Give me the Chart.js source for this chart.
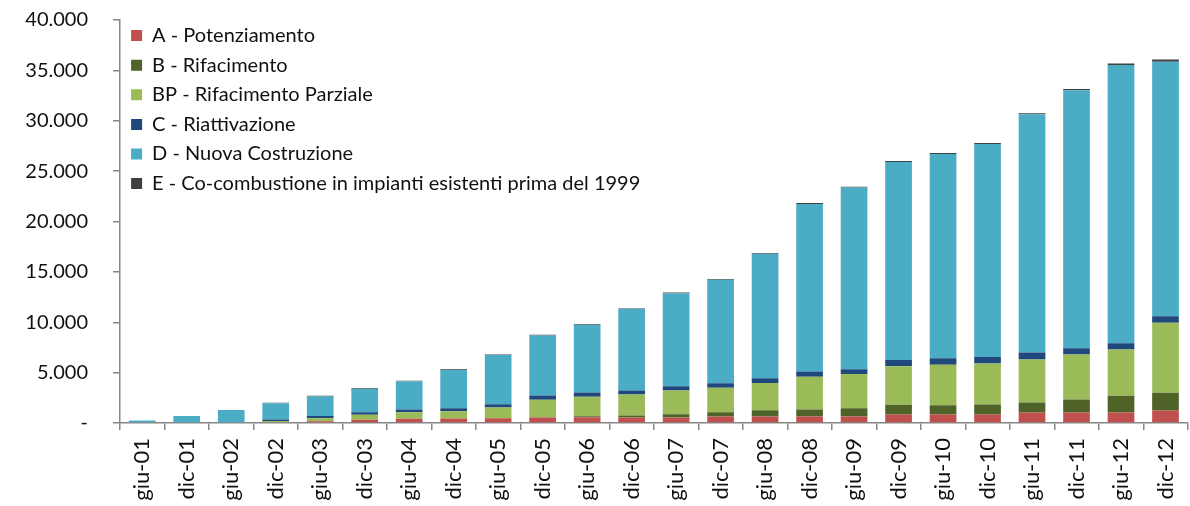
<!DOCTYPE html>
<html>
<head>
<meta charset="utf-8">
<script src="https://cdn.jsdelivr.net/npm/chart.js@4.4.0/dist/chart.umd.min.js"></script>
<style>
  html, body { margin: 0; padding: 0; background: #fff; overflow: hidden; }
  #wrap { width: 1200px; height: 506px; }
</style>
</head>
<body>
<div id="wrap"><canvas id="graph"></canvas></div>
<script>
// periodi (semestri)
const periodi = ['giu-01', 'dic-01', 'giu-02', 'dic-02', 'giu-03', 'dic-03', 'giu-04', 'dic-04',
  'giu-05', 'dic-05', 'giu-06', 'dic-06', 'giu-07', 'dic-07', 'giu-08', 'dic-08',
  'giu-09', 'dic-09', 'giu-10', 'dic-10', 'giu-11', 'dic-11', 'giu-12', 'dic-12']

// valori
const potenziamento = [0, 0, 0, 0, 170, 330, 420, 450, 480, 550, 580, 550,
  550, 640, 640, 640, 640, 840, 840, 840, 1040, 1040, 1040, 1240]
const rifacimento = [0, 0, 0, 0, 0, 0, 0, 0, 0, 30, 100, 200,
  330, 430, 620, 690, 820, 960, 920, 990, 990, 1290, 1660, 1760]
const rifParziale = [0, 0, 0, 200, 300, 500, 650, 720, 1060, 1720, 1920, 2080,
  2350, 2420, 2720, 3270, 3410, 3830, 4010, 4070, 4270, 4460, 4590, 6940]
const riattivazione = [0, 0, 0, 150, 230, 230, 270, 300, 330, 430, 430, 400,
  430, 460, 460, 500, 460, 630, 650, 660, 690, 630, 630, 650]
const nuovaCostr = [250, 700, 1300, 1600, 1940, 2350, 2800, 3790, 4870, 5960, 6720, 8100,
  9210, 10260, 12350, 16640, 18040, 19640, 20270, 21120, 23660, 25610, 27610, 25260]
const coCombustione = [0, 0, 0, 50, 60, 60, 60, 70, 70, 70, 70, 70,
  80, 80, 80, 90, 90, 100, 100, 100, 100, 110, 150, 230]

const yMax = 40000
const yStep = 5000

const grigio = '#868686'
const testo = '#111111'

// 40000 -> "40.000", 0 -> "-"
function formatta(v) {
  if (v === 0) return '-'
  return String(v).replace(/\B(?=(\d{3})+(?!\d))/g, '.')
}

// sposta un po' la legenda dentro l'area del grafico
const spostaLegenda = {
  id: 'spostaLegenda',
  beforeDraw(chart) {
    chart.legend.top = chart.chartArea.top - 4
    chart.legend.left = chart.chartArea.left + 1.5
  }
}

const ctx = document.getElementById('graph').getContext('2d')
const chart = new Chart(ctx, {
  type: 'bar',
  data: {
    labels: periodi,
    datasets: [
      { label: 'A - Potenziamento', data: potenziamento, backgroundColor: '#C0504D' },
      { label: 'B - Rifacimento', data: rifacimento, backgroundColor: '#4F6228' },
      { label: 'BP - Rifacimento Parziale', data: rifParziale, backgroundColor: '#9BBB59' },
      { label: 'C - Riattivazione', data: riattivazione, backgroundColor: '#1F497D' },
      { label: 'D - Nuova Costruzione', data: nuovaCostr, backgroundColor: '#4BACC6' },
      { label: 'E - Co-combustione in impianti esistenti prima del 1999', data: coCombustione, backgroundColor: '#404040' }
    ]
  },
  options: {
    responsive: true,
    maintainAspectRatio: false,
    animation: false,
    datasets: { bar: { barPercentage: 0.6, categoryPercentage: 1.0 } },
    layout: { padding: { top: 20, right: 5, left: 0, bottom: 0 } },
    plugins: {
      legend: {
        position: 'chartArea',
        align: 'start',
        labels: {
          boxWidth: 11,
          boxHeight: 11,
          padding: 9.6,
          color: testo,
          font: { family: 'Lato', size: 20 }
        }
      },
      tooltip: { enabled: false }
    },
    scales: {
      x: {
        stacked: true,
        offset: true,
        grid: { drawOnChartArea: false, offset: true, color: grigio, lineWidth: 1.5, tickLength: 7 },
        border: { color: grigio, width: 1.5 },
        ticks: { minRotation: 90, maxRotation: 90, padding: 8, color: testo, font: { family: 'Lato', size: 22 } },
        afterFit(scale) { scale.height = 83 }
      },
      y: {
        stacked: true,
        min: 0,
        max: yMax,
        grid: { drawOnChartArea: false, color: grigio, lineWidth: 1.5, tickLength: 7 },
        border: { color: grigio, width: 1.5 },
        ticks: { stepSize: yStep, padding: 25, color: testo, font: { family: 'Lato', size: 20 }, callback: v => formatta(v) },
        afterFit(scale) {
          scale.width = 120
          scale.paddingTop = 12
          scale.paddingBottom = 12
        }
      }
    }
  },
  plugins: [spostaLegenda]
})
</script>
</body>
</html>
